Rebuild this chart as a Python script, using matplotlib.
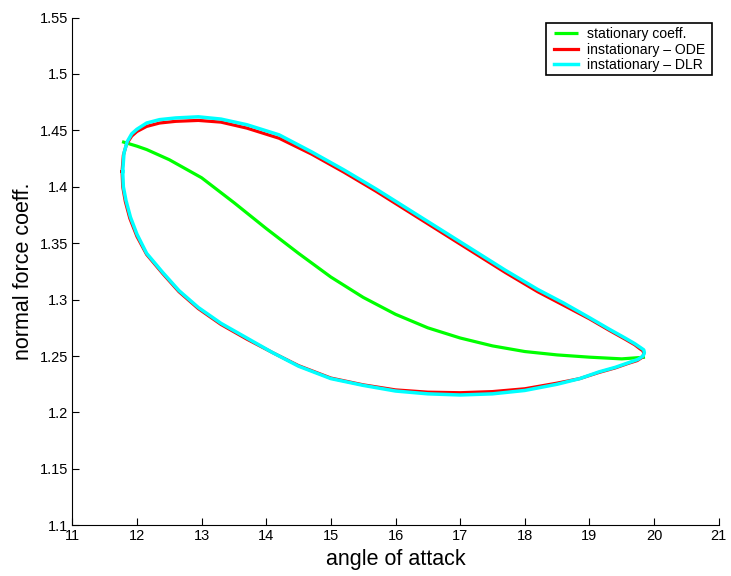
import matplotlib
matplotlib.use("Agg")
import matplotlib.pyplot as plt
from matplotlib.patches import Rectangle

plt.rcParams['font.family'] = ['Liberation Sans', 'DejaVu Sans']

# stationary coefficient
stat_alpha = [11.77, 12.0, 12.15, 12.5, 13.0, 13.5, 14.0, 14.5, 15.0, 15.5, 16.0, 16.5,
              17.0, 17.5, 18.0, 18.5, 19.0, 19.5, 19.86]
stat_cn = [1.440, 1.436, 1.433, 1.424, 1.408, 1.386, 1.363, 1.341, 1.320, 1.302, 1.287,
           1.275, 1.266, 1.259, 1.254, 1.251, 1.249, 1.2475, 1.249]

# instationary - ODE (closed loop: upper branch left->right, lower branch right->left)
ode_alpha = [11.77, 11.79, 11.84, 11.92, 12.0, 12.15, 12.35, 12.6, 12.95, 13.3, 13.7, 14.2,
             14.7, 15.2, 15.7, 16.2, 16.7, 17.2, 17.7, 18.2, 18.6, 19.0, 19.3, 19.55, 19.7,
             19.78, 19.83, 19.84,
             19.82, 19.74, 19.6, 19.4, 19.15, 18.85, 18.5, 18.0, 17.5, 17.0, 16.5, 16.0, 15.5,
             15.0, 14.5, 14.1, 13.7, 13.3, 12.95, 12.65, 12.4, 12.15, 12.0, 11.89, 11.82, 11.78,
             11.77]
ode_cn = [1.4135, 1.428, 1.438, 1.445, 1.449, 1.4535, 1.4565, 1.458, 1.4588, 1.4573, 1.452,
          1.443, 1.429, 1.413, 1.396, 1.378, 1.360, 1.342, 1.324, 1.307, 1.295, 1.283, 1.273,
          1.265, 1.260, 1.2565, 1.2545, 1.252,
          1.249, 1.246, 1.2435, 1.2395, 1.2355, 1.230, 1.226, 1.221, 1.2185, 1.2175, 1.218,
          1.220, 1.2245, 1.2305, 1.2415, 1.253, 1.265, 1.278, 1.292, 1.307, 1.323, 1.340,
          1.356, 1.372, 1.387, 1.400, 1.4135]

# instationary - DLR
dlr_alpha = [11.78, 11.80, 11.85, 11.92, 12.0, 12.15, 12.35, 12.6, 12.95, 13.3, 13.7, 14.2,
             14.7, 15.2, 15.7, 16.2, 16.7, 17.2, 17.7, 18.2, 18.6, 19.0, 19.3, 19.55, 19.7,
             19.79, 19.84, 19.85,
             19.83, 19.75, 19.6, 19.4, 19.15, 18.85, 18.5, 18.0, 17.5, 17.0, 16.5, 16.0, 15.5,
             15.0, 14.5, 14.1, 13.7, 13.3, 12.95, 12.65, 12.4, 12.15, 12.0, 11.9, 11.83, 11.79,
             11.78]
dlr_cn = [1.4135, 1.430, 1.440, 1.447, 1.451, 1.4565, 1.4595, 1.461, 1.462, 1.460, 1.455,
          1.446, 1.431, 1.415, 1.398, 1.380, 1.362, 1.344, 1.326, 1.309, 1.297, 1.284, 1.274,
          1.266, 1.261, 1.2575, 1.2555, 1.253,
          1.250, 1.247, 1.244, 1.240, 1.236, 1.230, 1.225, 1.2195, 1.2165, 1.2155, 1.2165,
          1.219, 1.224, 1.230, 1.241, 1.253, 1.266, 1.279, 1.293, 1.308, 1.324, 1.341,
          1.358, 1.373, 1.388, 1.400, 1.4135]

x_ticks = [11, 12, 13, 14, 15, 16, 17, 18, 19, 20, 21]
y_ticks = [1.1, 1.15, 1.2, 1.25, 1.3, 1.35, 1.4, 1.45, 1.5, 1.55]
y_labels = ['1.1', '1.15', '1.2', '1.25', '1.3', '1.35', '1.4', '1.45', '1.5', '1.55']

fig = plt.figure(figsize=(7.31, 5.76), dpi=100)
ax = fig.add_axes([0.0989, 0.088, 0.8843, 0.8816])

ax.plot(stat_alpha, stat_cn, color='#00ff00', lw=2.3, label='stationary coeff.', zorder=3,
        solid_capstyle='butt')
ax.plot(ode_alpha, ode_cn, color='#ff0000', lw=2.3, label='instationary \u2013 ODE', zorder=4,
        solid_joinstyle='round')
ax.plot(dlr_alpha, dlr_cn, color='#00ffff', lw=2.5, label='instationary \u2013 DLR', zorder=5,
        solid_joinstyle='round')

ax.set_xlim(11, 21)
ax.set_ylim(1.1, 1.55)
ax.set_xticks(x_ticks)
ax.set_xticklabels([str(t) for t in x_ticks])
ax.set_yticks(y_ticks)
ax.set_yticklabels(y_labels)
ax.tick_params(direction='in', length=5, width=0.8, labelsize=10.5, pad=3)
ax.spines['top'].set_visible(False)
ax.spines['right'].set_visible(False)
ax.set_xlabel('angle of attack', fontsize=15.5, labelpad=4)
ax.set_ylabel('normal force coeff.', fontsize=15.5, labelpad=4)

# legend frame (drawn separately to match the wider MATLAB box)
frame = Rectangle((0.7328, 0.8868), 0.2567, 0.1024, transform=ax.transAxes,
                  facecolor='white', edgecolor='black', linewidth=1.2, zorder=9)
ax.add_patch(frame)
leg = ax.legend(loc='upper right', bbox_to_anchor=(0.9842, 0.988), fontsize=10.1,
                frameon=False, handlelength=1.7,
                borderpad=0.25, labelspacing=0.1, handletextpad=0.62, borderaxespad=0)
leg.set_zorder(10)

fig.savefig('out.png', dpi=100)
